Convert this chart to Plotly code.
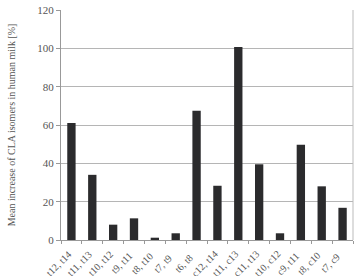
import plotly.graph_objects as go

categories = ["t12, t14", "t11, t13", "t10, t12", "t9, t11", "t8, t10", "t7, t9", "t6, t8",
              "c12, t14", "t11, c13", "c11, t13", "t10, c12", "c9, t11", "t8, c10", "t7, c9"]
values = [61, 34, 8, 11.3, 1.2, 3.5, 67.5, 28.3, 100.7, 39.5, 3.5, 49.7, 28, 16.8]
y_ticks = [0, 20, 40, 60, 80, 100, 120]

font = "Liberation Serif, Times New Roman, serif"
fig = go.Figure(go.Bar(x=categories, y=values, marker=dict(color="#2b2b2d", line_width=0), width=0.4))

fig.update_layout(
    width=357, height=276,
    margin=dict(l=61, r=4, t=10, b=36),
    paper_bgcolor="white", plot_bgcolor="white",
    showlegend=False,
    font=dict(family=font, color="#555555", size=10),
)
fig.update_xaxes(
    type="category", categoryorder="array", categoryarray=categories,
    range=[-0.5, len(categories) - 0.5],
    tickson="boundaries", ticks="outside", ticklen=3,
    tickcolor="#999", showline=True, linecolor="#999", linewidth=1,
    showticklabels=False, automargin=False, mirror=False, showgrid=False,
)
fig.update_yaxes(
    range=[0, 120], tickvals=y_ticks, ticks="outside", ticklen=4, tickcolor="#999",
    showline=True, linecolor="#999", linewidth=1, showgrid=True, gridcolor="#b5b5b5",
    gridwidth=1, tickfont=dict(size=11, family=font, color="#555"), automargin=False,
    title=dict(text="Mean increase of CLA isomers in human milk [%]", font=dict(size=10, family=font, color="#555"), standoff=19),
    zeroline=False,
)
# category labels, rotated and centred below each category (as in the reference)
for i, c in enumerate(categories):
    fig.add_annotation(x=i, y=0, xref="x", yref="y", text=c, showarrow=False,
                       textangle=-45, xshift=-13, yshift=-23,
                       font=dict(size=10, family=font, color="#555"))
fig.add_shape(type="line", xref="paper", yref="paper", x0=1, x1=1, y0=0, y1=1,
              line=dict(color="#bbb", width=1))
fig.write_html("out.html")
